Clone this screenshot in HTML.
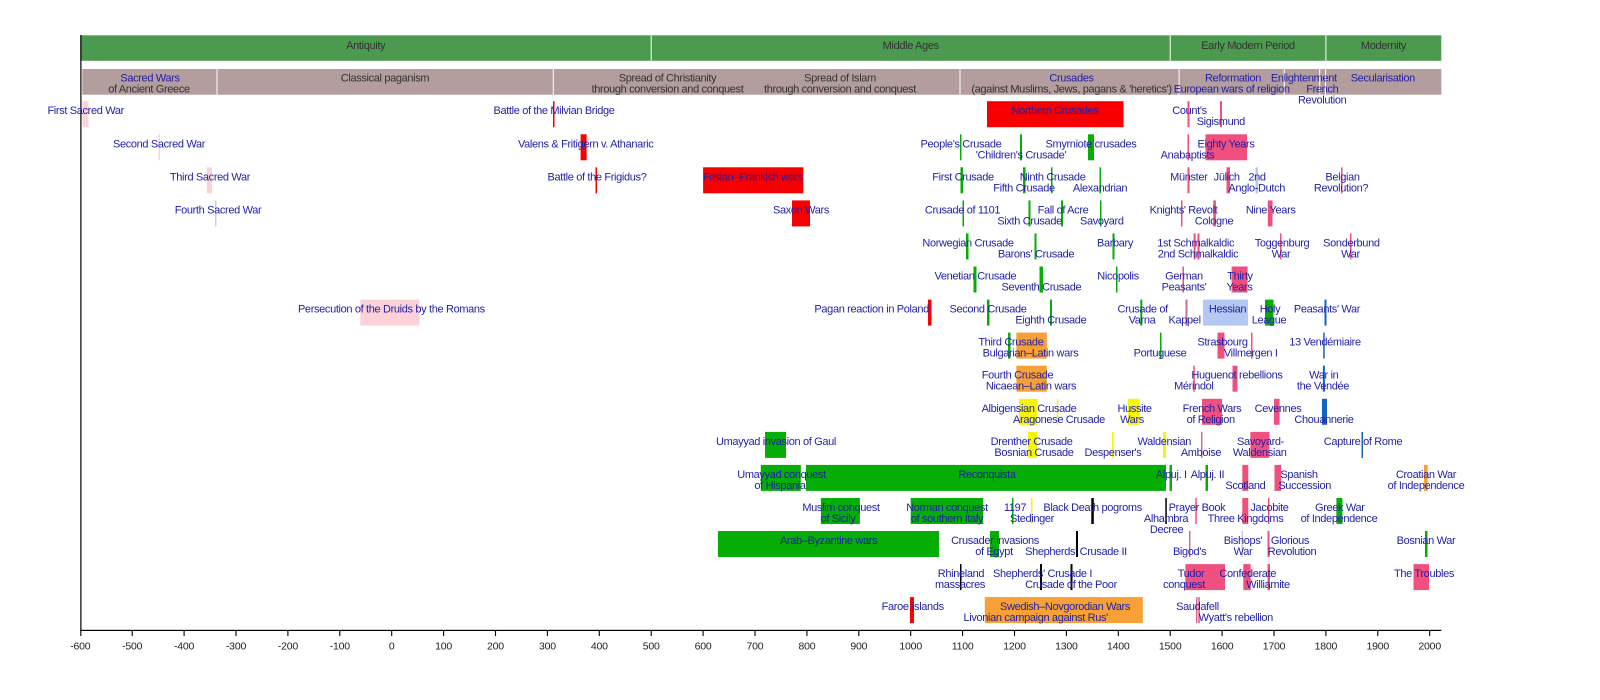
<!DOCTYPE html>
<html>
<head>
<meta charset="utf-8">
<style>
html,body{margin:0;padding:0;background:#fff;}
svg{display:block;}
text{font-family:"Liberation Sans",Arial,sans-serif;font-size:11px;letter-spacing:-0.35px;text-anchor:middle;}
.b{fill:#1f1fa8;}
.d{fill:#333;}
.ax{fill:#222;font-size:10.5px;letter-spacing:-0.2px;}
.r{fill:#f80000;}
.g{fill:#05ad05;}
.p{fill:#ef5080;}
.o{fill:#f7a035;}
.y{fill:#f6f600;}
.lb{fill:#b4c8f4;}
.bl{fill:#1565c0;}
.pp{fill:#fcd2d8;}
.k{fill:#000;}
.m{fill:#c87098;}
.lv{fill:#c8cce8;}
</style>
</head>
<body>
<svg width="1600" height="700" viewBox="0 0 1600 700" xmlns="http://www.w3.org/2000/svg">
<!-- top era bar -->
<rect x="80.3" y="35.3" width="1361" height="25.5" fill="#4c9a50"/>
<rect x="650.7" y="35.3" width="1" height="25.5" fill="#fff"/>
<rect x="1169.7" y="35.3" width="1" height="25.5" fill="#fff"/>
<rect x="1325.4" y="35.3" width="1" height="25.5" fill="#fff"/>
<text class="d" x="365.7" y="49">Antiquity</text>
<text class="d" x="910.7" y="49">Middle Ages</text>
<text class="d" x="1248" y="49">Early Modern Period</text>
<text class="d" x="1383.5" y="49">Modernity</text>

<!-- second bar -->
<rect x="82.3" y="69" width="1359" height="25.7" fill="#b39d9d"/>
<rect x="216.5" y="69" width="1" height="25.7" fill="#fff"/>
<rect x="552.8" y="69" width="1" height="25.7" fill="#fff"/>
<rect x="959.5" y="69" width="1" height="25.7" fill="#fff"/>
<rect x="1178.6" y="69" width="1" height="25.7" fill="#fff"/>
<rect x="1283.8" y="69" width="1" height="25.7" fill="#fff"/>
<rect x="1319.2" y="69" width="1" height="25.7" fill="#fff"/>
<rect x="1325" y="69" width="1" height="25.7" fill="#fff"/>
<text class="b" x="150" y="81.3">Sacred Wars</text>
<text class="d" x="149" y="92.3">of Ancient Greece</text>
<text class="d" x="385" y="81.3">Classical paganism</text>
<text class="d" x="667.5" y="81.3">Spread of Christianity</text>
<text class="d" x="667.5" y="92.3">through conversion and conquest</text>
<text class="d" x="840" y="81.3">Spread of Islam</text>
<text class="d" x="840" y="92.3">through conversion and conquest</text>
<text class="b" x="1071.5" y="81.3">Crusades</text>
<text class="d" x="1071.5" y="92.3">(against Muslims, Jews, pagans &amp; 'heretics')</text>
<text class="b" x="1233" y="81.3">Reformation</text>
<text class="b" x="1231.7" y="92.3">European wars of religion</text>
<text class="b" x="1303.8" y="81.3">Enlightenment</text>
<text class="b" x="1322.3" y="92.3">French</text>
<text class="b" x="1322.2" y="103.3">Revolution</text>
<text class="b" x="1382.8" y="81.3">Secularisation</text>

<!-- axes -->
<rect x="80.3" y="35" width="1.2" height="595.5" fill="#000"/>
<rect x="80.3" y="629.8" width="1361" height="1.2" fill="#000"/>
<path d="M80.8 630v6M132.2 630v6M184.1 630v6M236 630v6M287.9 630v6M339.8 630v6M391.7 630v6M443.6 630v6M495.5 630v6M547.4 630v6M599.3 630v6M651.2 630v6M703.1 630v6M755 630v6M806.9 630v6M858.8 630v6M910.7 630v6M962.6 630v6M1014.5 630v6M1066.4 630v6M1118.3 630v6M1170.2 630v6M1222.1 630v6M1274 630v6M1325.9 630v6M1377.8 630v6M1429.7 630v6" stroke="#000" stroke-width="1.1" fill="none"/>
<text class="ax" x="80.3" y="649.5">-600</text>
<text class="ax" x="132.2" y="649.5">-500</text>
<text class="ax" x="184.1" y="649.5">-400</text>
<text class="ax" x="236" y="649.5">-300</text>
<text class="ax" x="287.9" y="649.5">-200</text>
<text class="ax" x="339.8" y="649.5">-100</text>
<text class="ax" x="391.7" y="649.5">0</text>
<text class="ax" x="443.6" y="649.5">100</text>
<text class="ax" x="495.5" y="649.5">200</text>
<text class="ax" x="547.4" y="649.5">300</text>
<text class="ax" x="599.3" y="649.5">400</text>
<text class="ax" x="651.2" y="649.5">500</text>
<text class="ax" x="703.1" y="649.5">600</text>
<text class="ax" x="755" y="649.5">700</text>
<text class="ax" x="806.9" y="649.5">800</text>
<text class="ax" x="858.8" y="649.5">900</text>
<text class="ax" x="910.7" y="649.5">1000</text>
<text class="ax" x="962.6" y="649.5">1100</text>
<text class="ax" x="1014.5" y="649.5">1200</text>
<text class="ax" x="1066.4" y="649.5">1300</text>
<text class="ax" x="1118.3" y="649.5">1400</text>
<text class="ax" x="1170.2" y="649.5">1500</text>
<text class="ax" x="1222.1" y="649.5">1600</text>
<text class="ax" x="1274" y="649.5">1700</text>
<text class="ax" x="1325.9" y="649.5">1800</text>
<text class="ax" x="1377.8" y="649.5">1900</text>
<text class="ax" x="1429.7" y="649.5">2000</text>

<!-- BARS -->
<!-- R1 top 101.2 -->
<rect class="pp" x="82.5" y="101.2" width="6" height="26"/>
<rect class="r" x="553" y="101.2" width="1.5" height="26"/>
<rect class="r" x="987" y="101.2" width="136.5" height="26"/>
<rect class="p" x="1187.5" y="101.2" width="2" height="26"/>
<rect class="p" x="1220" y="101.2" width="2" height="26"/>
<!-- R2 top 134.3 -->
<rect class="pp" x="158.5" y="134.3" width="1.5" height="26"/>
<rect class="r" x="580.6" y="134.3" width="6" height="26"/>
<rect class="g" x="960" y="134.3" width="1.5" height="26"/>
<rect class="g" x="1020" y="134.3" width="2" height="26"/>
<rect class="g" x="1088" y="134.3" width="6" height="26"/>
<rect class="p" x="1205.5" y="134.3" width="41.5" height="26"/>
<rect class="p" x="1187.5" y="134.3" width="1.5" height="26"/>
<!-- R3 top 167.3 -->
<rect class="pp" x="206.8" y="167.3" width="5.2" height="26"/>
<rect class="r" x="595.5" y="167.3" width="1.5" height="26"/>
<rect class="r" x="703.1" y="167.3" width="100.2" height="26"/>
<rect class="g" x="960.5" y="167.3" width="2.5" height="26"/>
<rect class="g" x="1023" y="167.3" width="2.5" height="26"/>
<rect class="g" x="1051" y="167.3" width="1.5" height="26"/>
<rect class="g" x="1099.5" y="167.3" width="1.5" height="26"/>
<rect class="p" x="1187.5" y="167.3" width="2" height="26"/>
<rect class="p" x="1226.5" y="167.3" width="3.5" height="26"/>
<rect class="lb" x="1255.5" y="167.3" width="2.5" height="26"/>
<rect class="p" x="1341" y="167.3" width="1.5" height="26"/>
<!-- R4 top 200.4 -->
<rect class="lv" x="215" y="200.4" width="1.5" height="26"/>
<rect class="r" x="792" y="200.4" width="18" height="26"/>
<rect class="g" x="962.5" y="200.4" width="1.5" height="26"/>
<rect class="g" x="1028.5" y="200.4" width="2" height="26"/>
<rect class="g" x="1061" y="200.4" width="2" height="26"/>
<rect class="g" x="1100" y="200.4" width="1.5" height="26"/>
<rect class="p" x="1181" y="200.4" width="1.5" height="26"/>
<rect class="p" x="1213.3" y="200.4" width="2.6" height="26"/>
<rect class="p" x="1267.8" y="200.4" width="4.7" height="26"/>
<!-- R5 top 233.4 -->
<rect class="g" x="966" y="233.4" width="2.5" height="26"/>
<rect class="g" x="1034.5" y="233.4" width="2" height="26"/>
<rect class="g" x="1112.5" y="233.4" width="2" height="26"/>
<rect class="p" x="1193.6" y="233.4" width="2" height="26"/>
<rect class="p" x="1197.5" y="233.4" width="2" height="26"/>
<rect class="p" x="1280" y="233.4" width="1.5" height="26"/>
<rect class="p" x="1350" y="233.4" width="1.5" height="26"/>
<!-- R6 top 266.5 -->
<rect class="g" x="973.5" y="266.5" width="3" height="26"/>
<rect class="g" x="1039.5" y="266.5" width="3.5" height="26"/>
<rect class="g" x="1116" y="266.5" width="1.5" height="26"/>
<rect class="p" x="1182.5" y="266.5" width="1.5" height="26"/>
<rect class="p" x="1231.6" y="266.5" width="16" height="26"/>
<!-- R7 top 299.6 -->
<rect class="pp" x="360.3" y="299.6" width="59.1" height="26"/>
<rect class="r" x="928" y="299.6" width="3.5" height="26"/>
<rect class="g" x="987" y="299.6" width="2.5" height="26"/>
<rect class="g" x="1050" y="299.6" width="2" height="26"/>
<rect class="g" x="1140.3" y="299.6" width="2" height="26"/>
<rect class="m" x="1185.5" y="299.6" width="2" height="26"/>
<rect class="lb" x="1203" y="299.6" width="45" height="26"/>
<rect class="g" x="1265" y="299.6" width="8.5" height="26"/>
<rect class="bl" x="1324.5" y="299.6" width="2" height="26"/>
<!-- R8 top 332.6 -->
<rect class="g" x="1008" y="332.6" width="2.5" height="26"/>
<rect class="o" x="1016.4" y="332.6" width="30.4" height="26"/>
<rect class="g" x="1160" y="332.6" width="1.5" height="26"/>
<rect class="p" x="1217.5" y="332.6" width="7" height="26"/>
<rect class="p" x="1251" y="332.6" width="1.5" height="26"/>
<rect class="bl" x="1323.2" y="332.6" width="1.5" height="26"/>
<!-- R9 top 365.7 -->
<rect class="o" x="1016.4" y="365.7" width="30.4" height="26"/>
<rect class="p" x="1232.5" y="365.7" width="5" height="26"/>
<rect class="p" x="1193.3" y="365.7" width="1.5" height="26"/>
<rect class="bl" x="1322.9" y="365.7" width="2" height="26"/>
<!-- R10 top 398.8 -->
<rect class="y" x="1019" y="398.8" width="18.5" height="26"/>
<rect class="y" x="1056.8" y="398.8" width="1.5" height="26"/>
<rect class="y" x="1128" y="398.8" width="11.5" height="26"/>
<rect class="p" x="1202" y="398.8" width="20" height="26"/>
<rect class="p" x="1274" y="398.8" width="5.6" height="26"/>
<rect class="bl" x="1322" y="398.8" width="5" height="26"/>
<!-- R11 top 431.9 -->
<rect class="g" x="765" y="431.9" width="21" height="26"/>
<rect class="y" x="1028" y="431.9" width="9" height="26"/>
<rect class="y" x="1112" y="431.9" width="1.5" height="26"/>
<rect class="y" x="1163" y="431.9" width="3" height="26"/>
<rect class="m" x="1201" y="431.9" width="1.5" height="26"/>
<rect class="p" x="1250.4" y="431.9" width="19" height="26"/>
<rect class="bl" x="1361.5" y="431.9" width="1.5" height="26"/>
<!-- R12 top 464.9 -->
<rect class="g" x="760.8" y="464.9" width="40" height="26"/>
<rect class="g" x="806" y="464.9" width="360" height="26"/>
<rect class="g" x="1169.5" y="464.9" width="2.5" height="26"/>
<rect class="g" x="1205.5" y="464.9" width="2.5" height="26"/>
<rect class="p" x="1242.3" y="464.9" width="6" height="26"/>
<rect class="p" x="1274.5" y="464.9" width="6.7" height="26"/>
<rect class="o" x="1424" y="464.9" width="3.7" height="26"/>
<!-- R13 top 498 -->
<rect class="g" x="820.9" y="498" width="39" height="26"/>
<rect class="g" x="910.7" y="498" width="72.5" height="26"/>
<rect class="g" x="1012" y="498" width="1.5" height="26"/>
<rect class="y" x="1031" y="498" width="1.5" height="26"/>
<rect class="k" x="1091.3" y="498" width="2.5" height="26"/>
<rect class="k" x="1165.3" y="498" width="1.5" height="26"/>
<rect class="p" x="1195.3" y="498" width="1.5" height="26"/>
<rect class="p" x="1242.3" y="498" width="6" height="26"/>
<rect class="p" x="1268" y="498" width="1.5" height="26"/>
<rect class="g" x="1336.4" y="498" width="6" height="26"/>
<!-- R14 top 531 -->
<rect class="g" x="718" y="531" width="221" height="26"/>
<rect class="g" x="990" y="531" width="9" height="26"/>
<rect class="k" x="1076" y="531" width="2" height="26"/>
<rect class="m" x="1189" y="531" width="1.5" height="26"/>
<rect class="lv" x="1241.5" y="531" width="1.5" height="26"/>
<rect class="p" x="1267.5" y="531" width="2" height="26"/>
<rect class="g" x="1425" y="531" width="2.5" height="26"/>
<!-- R15 top 564.1 -->
<rect class="k" x="960" y="564.1" width="1.5" height="26"/>
<rect class="k" x="1040" y="564.1" width="2" height="26"/>
<rect class="k" x="1070.5" y="564.1" width="2" height="26"/>
<rect class="p" x="1185.4" y="564.1" width="39.6" height="26"/>
<rect class="p" x="1243.3" y="564.1" width="7.4" height="26"/>
<rect class="p" x="1267.5" y="564.1" width="2.5" height="26"/>
<rect class="p" x="1413.5" y="564.1" width="15.5" height="26"/>
<!-- R16 top 597.1 -->
<rect class="r" x="910" y="597.1" width="4" height="26"/>
<rect class="o" x="984.8" y="597.1" width="158" height="26"/>
<rect class="m" x="1196" y="597.1" width="1.5" height="26"/>
<rect class="p" x="1198.3" y="597.1" width="1.5" height="26"/>

<!-- LABELS -->
<!-- R1 -->
<text class="b" x="85.7" y="114.2">First Sacred War</text>
<text class="b" x="554" y="114.2">Battle of the Milvian Bridge</text>
<text class="b" x="1055" y="114.2">Northern Crusades</text>
<text class="b" x="1189.5" y="114.2">Count's</text>
<text class="b" x="1220.8" y="125.2">Sigismund</text>
<!-- R2 -->
<text class="b" x="159" y="147.3">Second Sacred War</text>
<text class="b" x="585.7" y="147.3">Valens &amp; Fritigern v. Athanaric</text>
<text class="b" x="961" y="147.3">People's Crusade</text>
<text class="b" x="1021" y="158.3">'Children's Crusade'</text>
<text class="b" x="1091" y="147.3">Smyrniote crusades</text>
<text class="b" x="1226" y="147.3">Eighty Years</text>
<text class="b" x="1187.5" y="158.3">Anabaptists</text>
<!-- R3 -->
<text class="b" x="210" y="180.3">Third Sacred War</text>
<text class="b" x="597" y="180.3">Battle of the Frigidus?</text>
<text class="b" x="753" y="180.3">Frisian–Frankish wars</text>
<text class="b" x="963" y="180.3">First Crusade</text>
<text class="b" x="1024" y="191.3">Fifth Crusade</text>
<text class="b" x="1052.6" y="180.3">Ninth Crusade</text>
<text class="b" x="1100" y="191.3">Alexandrian</text>
<text class="b" x="1188.8" y="180.3">Münster</text>
<text class="b" x="1226.7" y="180.3">Jülich</text>
<text class="b" x="1257" y="180.3">2nd</text>
<text class="b" x="1256.7" y="191.3">Anglo-Dutch</text>
<text class="b" x="1342.5" y="180.3">Belgian</text>
<text class="b" x="1341" y="191.3">Revolution?</text>
<!-- R4 -->
<text class="b" x="218" y="213.4">Fourth Sacred War</text>
<text class="b" x="801" y="213.4">Saxon Wars</text>
<text class="b" x="962.5" y="213.4">Crusade of 1101</text>
<text class="b" x="1029.6" y="224.4">Sixth Crusade</text>
<text class="b" x="1063" y="213.4">Fall of Acre</text>
<text class="b" x="1101.8" y="224.4">Savoyard</text>
<text class="b" x="1183.5" y="213.4">Knights' Revolt</text>
<text class="b" x="1214" y="224.4">Cologne</text>
<text class="b" x="1270.7" y="213.4">Nine Years</text>
<!-- R5 -->
<text class="b" x="968" y="246.4">Norwegian Crusade</text>
<text class="b" x="1036" y="257.4">Barons' Crusade</text>
<text class="b" x="1115" y="246.4">Barbary</text>
<text class="b" x="1195.7" y="246.4">1st Schmalkaldic</text>
<text class="b" x="1198" y="257.4">2nd Schmalkaldic</text>
<text class="b" x="1282" y="246.4">Toggenburg</text>
<text class="b" x="1281" y="257.4">War</text>
<text class="b" x="1351.4" y="246.4">Sonderbund</text>
<text class="b" x="1350.5" y="257.4">War</text>
<!-- R6 -->
<text class="b" x="975.4" y="279.5">Venetian Crusade</text>
<text class="b" x="1041.4" y="290.5">Seventh Crusade</text>
<text class="b" x="1118" y="279.5">Nicopolis</text>
<text class="b" x="1184" y="279.5">German</text>
<text class="b" x="1184" y="290.5">Peasants'</text>
<text class="b" x="1240" y="279.5">Thirty</text>
<text class="b" x="1239.5" y="290.5">Years</text>
<!-- R7 -->
<text class="b" x="391.4" y="312.6">Persecution of the Druids by the Romans</text>
<text class="b" x="871.7" y="312.6">Pagan reaction in Poland</text>
<text class="b" x="988" y="312.6">Second Crusade</text>
<text class="b" x="1050.9" y="323.6">Eighth Crusade</text>
<text class="b" x="1142.7" y="312.6">Crusade of</text>
<text class="b" x="1142" y="323.6">Varna</text>
<text class="b" x="1184.6" y="323.6">Kappel</text>
<text class="b" x="1227.5" y="312.6">Hessian</text>
<text class="b" x="1270" y="312.6">Holy</text>
<text class="b" x="1269" y="323.6">League</text>
<text class="b" x="1327" y="312.6">Peasants' War</text>
<!-- R8 -->
<text class="b" x="1010.9" y="345.6">Third Crusade</text>
<text class="b" x="1030.5" y="356.6">Bulgarian–Latin wars</text>
<text class="b" x="1160" y="356.6">Portuguese</text>
<text class="b" x="1222.5" y="345.6">Strasbourg</text>
<text class="b" x="1250.7" y="356.6">Villmergen I</text>
<text class="b" x="1325" y="345.6">13 Vendémiaire</text>
<!-- R9 -->
<text class="b" x="1017.5" y="378.7">Fourth Crusade</text>
<text class="b" x="1031" y="389.7">Nicaean–Latin wars</text>
<text class="b" x="1237" y="378.7">Huguenot rebellions</text>
<text class="b" x="1193.8" y="389.7">Mérindol</text>
<text class="b" x="1323.8" y="378.7">War in</text>
<text class="b" x="1323" y="389.7">the Vendée</text>
<!-- R10 -->
<text class="b" x="1029" y="411.8">Albigensian Crusade</text>
<text class="b" x="1059" y="422.8">Aragonese Crusade</text>
<text class="b" x="1134.6" y="411.8">Hussite</text>
<text class="b" x="1132" y="422.8">Wars</text>
<text class="b" x="1212" y="411.8">French Wars</text>
<text class="b" x="1210.7" y="422.8">of Religion</text>
<text class="b" x="1278" y="411.8">Cevennes</text>
<text class="b" x="1324" y="422.8">Chouannerie</text>
<!-- R11 -->
<text class="b" x="776" y="444.9">Umayyad invasion of Gaul</text>
<text class="b" x="1031.6" y="444.9">Drenther Crusade</text>
<text class="b" x="1034" y="455.9">Bosnian Crusade</text>
<text class="b" x="1113" y="455.9">Despenser's</text>
<text class="b" x="1164.3" y="444.9">Waldensian</text>
<text class="b" x="1201" y="455.9">Amboise</text>
<text class="b" x="1260.5" y="444.9">Savoyard-</text>
<text class="b" x="1259.7" y="455.9">Waldensian</text>
<text class="b" x="1363" y="444.9">Capture of Rome</text>
<!-- R12 -->
<text class="b" x="781.5" y="477.9">Umayyad conquest</text>
<text class="b" x="780" y="488.9">of Hispania</text>
<text class="b" x="987" y="477.9">Reconquista</text>
<text class="b" x="1171.3" y="477.9">Alpuj. I</text>
<text class="b" x="1207.5" y="477.9">Alpuj. II</text>
<text class="b" x="1245.4" y="488.9">Scotland</text>
<text class="b" x="1299" y="477.9">Spanish</text>
<text class="b" x="1304.7" y="488.9">Succession</text>
<text class="b" x="1426" y="477.9">Croatian War</text>
<text class="b" x="1426" y="488.9">of Independence</text>
<!-- R13 -->
<text class="b" x="841" y="511">Muslim conquest</text>
<text class="b" x="838" y="522">of Sicily</text>
<text class="b" x="947" y="511">Norman conquest</text>
<text class="b" x="947" y="522">of southern Italy</text>
<text class="b" x="1015" y="511">1197</text>
<text class="b" x="1032" y="522">Stedinger</text>
<text class="b" x="1092.6" y="511">Black Death pogroms</text>
<text class="b" x="1166" y="522">Alhambra</text>
<text class="b" x="1166.6" y="533">Decree</text>
<text class="b" x="1197" y="511">Prayer Book</text>
<text class="b" x="1245.5" y="522">Three Kingdoms</text>
<text class="b" x="1269.5" y="511">Jacobite</text>
<text class="b" x="1339.8" y="511">Greek War</text>
<text class="b" x="1339" y="522">of Independence</text>
<!-- R14 -->
<text class="b" x="828.6" y="544">Arab–Byzantine wars</text>
<text class="b" x="995" y="544">Crusader invasions</text>
<text class="b" x="994" y="555">of Egypt</text>
<text class="b" x="1076" y="555">Shepherds' Crusade II</text>
<text class="b" x="1189.6" y="555">Bigod's</text>
<text class="b" x="1243" y="544">Bishops'</text>
<text class="b" x="1243" y="555">War</text>
<text class="b" x="1290" y="544">Glorious</text>
<text class="b" x="1292" y="555">Revolution</text>
<text class="b" x="1426" y="544">Bosnian War</text>
<!-- R15 -->
<text class="b" x="961" y="577.1">Rhineland</text>
<text class="b" x="960" y="588.1">massacres</text>
<text class="b" x="1042.5" y="577.1">Shepherds' Crusade I</text>
<text class="b" x="1071" y="588.1">Crusade of the Poor</text>
<text class="b" x="1191" y="577.1">Tudor</text>
<text class="b" x="1184" y="588.1">conquest</text>
<text class="b" x="1247.7" y="577.1">Confederate</text>
<text class="b" x="1268" y="588.1">Williamite</text>
<text class="b" x="1424" y="577.1">The Troubles</text>
<!-- R16 -->
<text class="b" x="912.7" y="610.1">Faroe Islands</text>
<text class="b" x="1065" y="610.1">Swedish–Novgorodian Wars</text>
<text class="b" x="1035.7" y="621.1">Livonian campaign against Rus'</text>
<text class="b" x="1197.5" y="610.1">Saudafell</text>
<text class="b" x="1235.8" y="621.1">Wyatt's rebellion</text>
</svg>
</body>
</html>
